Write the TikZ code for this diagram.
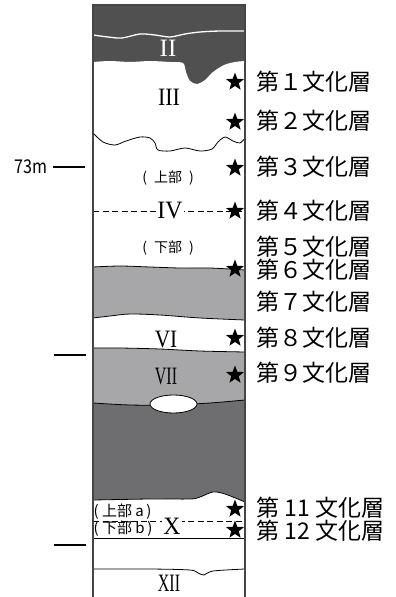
\documentclass[tikz,border=0pt]{standalone}
\usepackage{fontspec}
\setmainfont{Liberation Serif}
\newfontfamily\jp{Noto Sans CJK JP}
\usetikzlibrary{shapes.geometric}
\definecolor{darkband}{HTML}{505050}
\definecolor{darksoil}{HTML}{6E6E70}
\definecolor{midsoil}{HTML}{A7A7A9}
\definecolor{rimgray}{HTML}{464646}
\newcommand{\bI}{plot[smooth] coordinates {(93,35) (108,37) (122,38) (140,34) (155,35) (170,37) (185,34) (200,32) (220,31) (245,31)}}
\newcommand{\bII}{plot[smooth] coordinates {(93,62) (110,61) (130,62) (150,61) (170,62) (183,63) (186,72) (190,81) (197,84) (205,80) (213,72) (224,65) (235,62) (245,61)}}
\newcommand{\bIII}{plot[smooth] coordinates {(93,133) (103,142) (115,145) (126,141) (140,137) (150,138) (155,143) (158,150) (170,151) (185,148) (200,151) (212,149) (218,142) (225,137) (233,141) (240,143) (245,138)}}
\newcommand{\bIV}{plot[smooth] coordinates {(93,267) (120,266) (150,267) (180,268) (210,268) (245,270)}}
\newcommand{\bV}{plot[smooth] coordinates {(93,318) (110,316) (130,314) (160,315) (200,318) (245,320)}}
\newcommand{\bVI}{plot[smooth] coordinates {(93,348) (120,348) (160,349) (200,351) (245,352)}}
\newcommand{\bVII}{plot[smooth] coordinates {(93,403) (130,405) (170,405) (210,403) (245,400)}}
\newcommand{\bVIII}{plot[smooth] coordinates {(93,500) (150,499) (190,499) (200,497) (213,492) (225,494) (245,502)}}
\newcommand{\bXII}{plot[smooth] coordinates {(93,569) (150,569) (190,570) (198,573) (204,575) (213,571) (245,569)}}
\newcommand{\rn}[2]{\scalebox{#1}[1]{#2}}

\begin{document}
\begin{tikzpicture}[x=1pt, y=-1pt,
  layerstar/.style={star, star points=5, star point ratio=2.4, minimum size=19pt, inner sep=0pt, fill=black},
  roman/.style={font=\fontsize{25}{25}\selectfont, inner sep=1pt},
  bunka/.style={anchor=west, inner sep=0pt, font=\jp\fontsize{23}{23}\selectfont},
  bubun/.style={inner sep=0pt, font=\jp\fontsize{14}{14}\selectfont},
  bubunab/.style={anchor=west, inner sep=0pt, font=\jp\fontsize{15}{15}\selectfont},
  dashline/.style={dash pattern=on 6pt off 3.5pt, line width=0.8pt}]

\useasboundingbox (0,0) rectangle (396,597);

\fill[white] (93,5) rectangle (245,597);
\fill[darkband] (93,5) rectangle (245,90);
\fill[white] \bII -- (245,597) -- (93,597) -- cycle;
\draw[white, line width=1.3pt] \bI;
\draw[line width=0.8pt] \bIII;
\fill[midsoil] \bIV -- (245,597) -- (93,597) -- cycle;
\draw[line width=0.8pt] \bIV;
\fill[white] \bV -- (245,597) -- (93,597) -- cycle;
\draw[line width=0.8pt] \bV;
\fill[midsoil] \bVI -- (245,597) -- (93,597) -- cycle;
\draw[line width=0.8pt] \bVI;
\fill[darksoil] \bVII -- (245,597) -- (93,597) -- cycle;
\draw[line width=0.8pt] \bVII;
\fill[white] \bVIII -- (245,597) -- (93,597) -- cycle;
\draw[line width=0.8pt] \bVIII;
\draw[line width=0.8pt] (93,538) -- (245,538);
\draw[line width=0.8pt] \bXII;
\draw[line width=0.8pt, fill=white] (173.5,404) ellipse [x radius=23.5, y radius=9];

\draw[dashline] (93,211) -- (245,211);
\draw[dashline] (93,521) -- (245,521);

\draw[rimgray, line width=1.8pt] (93,597) -- (93,5) -- (245,5) -- (245,597);

\node[roman, text=white] (rII) at (168,48) {\rn{1}{II}};
\node[roman] (rIII) at (169,97) {\rn{0.88}{III}};
\node[roman, fill=white] (rIV) at (170,211) {\rn{0.95}{IV}};
\node[roman] (rVI) at (166,339) {\rn{0.85}{VI}};
\node[roman] (rVII) at (166,376) {\rn{0.64}{VII}};
\node[roman, fill=white] (rX) at (172,526) {\rn{0.95}{X}};
\node[roman, inner sep=0pt] (rXII) at (169,583) {\rn{0.64}{XII}};

\node[bubun] (ivup) at (168,178) {(\enspace 上部\enspace )};
\node[bubun] (ivlow) at (168,248) {(\enspace 下部\enspace )};
\node[bubunab] (xa) at (93.5,512) {( 上部 a\,)};
\node[bubunab] (xb) at (93.5,529) {( 下部 b\,)};

\node[layerstar] (s1) at (235,82) {};
\node[layerstar] (s2) at (235,122) {};
\node[layerstar] (s3) at (235,168) {};
\node[layerstar] (s4) at (235,211) {};
\node[layerstar] (s6) at (235,269) {};
\node[layerstar] (s8) at (235,338) {};
\node[layerstar] (s9) at (235,375) {};
\node[layerstar] (s11) at (235,509) {};
\node[layerstar] (s12) at (235,530) {};

\node[bunka] (c1) at (256,82) {第１文化層};
\node[bunka] (c2) at (256,121) {第２文化層};
\node[bunka] (c3) at (256,167) {第３文化層};
\node[bunka] (c4) at (256,211) {第４文化層};
\node[bunka] (c5) at (256,247) {第５文化層};
\node[bunka] (c6) at (256,270) {第６文化層};
\node[bunka] (c7) at (256,302) {第７文化層};
\node[bunka] (c8) at (256,338) {第８文化層};
\node[bunka] (c9) at (256,373) {第９文化層};
\node[bunka] (c11) at (256,508) {第 11 文化層};
\node[bunka] (c12) at (256,531) {第 12 文化層};

\node[anchor=east, inner sep=0pt, font=\jp\fontsize{19}{19}\selectfont] (m73) at (48,167) {\scalebox{0.85}[1]{73m}};
\draw[line width=1.1pt] (53,167) -- (85,167);
\draw[line width=1.1pt] (54,355) -- (86,355);
\draw[line width=1.1pt] (54,545) -- (86,545);

\end{tikzpicture}
\end{document}
